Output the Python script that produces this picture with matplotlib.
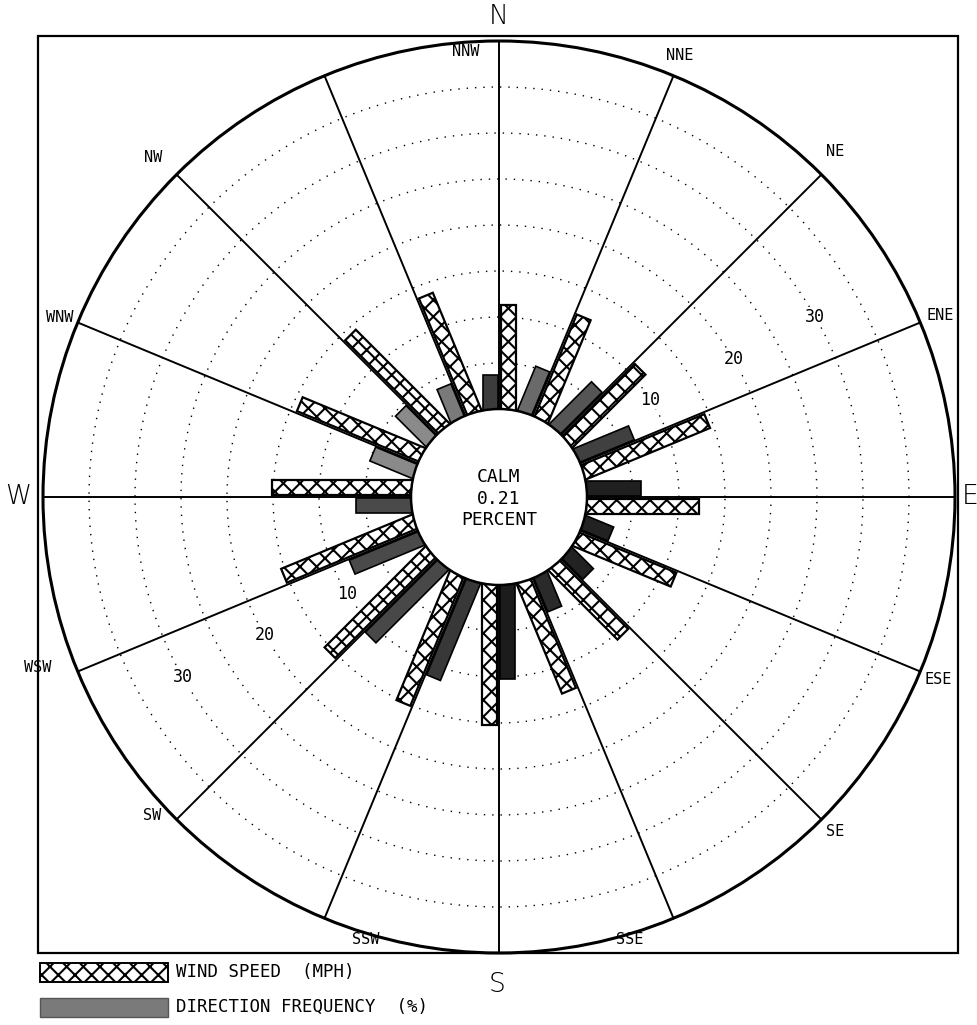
import numpy as np
import matplotlib
matplotlib.use("Agg")
import matplotlib.pyplot as plt
from matplotlib.patches import Polygon, Circle, Rectangle

# ---------------- data ----------------
directions = ["N", "NNE", "NE", "ENE", "E", "ESE", "SE", "SSE",
              "S", "SSW", "SW", "WSW", "W", "WNW", "NW", "NNW"]
wind_speed_mph = [11.3, 12.0, 11.1, 14.5, 12.2, 11.4, 10.5, 12.8,
                  15.2, 15.1, 15.4, 15.3, 15.1, 14.3, 14.3, 13.7]
direction_freq_pct = [3.7, 5.1, 6.4, 6.4, 5.9, 3.2, 3.2, 4.0,
                      10.2, 11.3, 11.1, 8.1, 6.0, 4.9, 4.6, 3.8]
ring_labels = [10, 20, 30]
calm_pct = 0.21
legend_labels = ["WIND SPEED  (MPH)", "DIRECTION FREQUENCY  (%)"]

# ---------------- layout ----------------
PX = 9.2                     # pixels per unit
W_PX, H_PX = 978, 1025
CX, CY = 499, 497            # centre in pixel coords (from top)
R0 = 88 / PX                 # calm circle radius (units)
RMAX = 40                    # outer circle value

plt.rcParams["hatch.linewidth"] = 1.5
fig = plt.figure(figsize=(W_PX / 100, H_PX / 100), dpi=100)
ax = fig.add_axes([0, 0, 1, 1])
ax.set_xlim(-CX / PX, (W_PX - CX) / PX)
ax.set_ylim(-(H_PX - CY) / PX, CY / PX)
ax.axis("off")

font = "DejaVu Sans"
mono = "DejaVu Sans Mono"


def px(x, y):
    """pixel position (from top-left) -> data units"""
    return (x - CX) / PX, (CY - y) / PX


angles = np.arange(len(directions)) * 22.5

# frame
ax.add_patch(Rectangle((-50.1, -49.6), 100.0, 99.7, fill=False,
                       lw=1.6, ec="black", zorder=1))

# dotted rings
t = np.linspace(0, 2 * np.pi, 720)
for v in range(5, RMAX, 5):
    r = R0 + v
    ax.plot(r * np.cos(t), r * np.sin(t), color="black", lw=1.0,
            ls=(0, (1, 5)), zorder=2)

# outer circle
ax.add_patch(Circle((0, 0), R0 + RMAX, fill=False, lw=2.2, ec="black", zorder=3))

# bars
freq_shades = ["#3c3c3c", "#6a6a6a", "#555555", "#404040", "#202020", "#222222",
               "#222222", "#2a2a2a", "#1c1c1c", "#383838", "#484848", "#4a4a4a",
               "#4a4a4a", "#8a8a8a", "#8a8a8a", "#7a7a7a"]


def bar(theta, length, o1, o2, **kw):
    th = np.radians(theta)
    u = np.array([np.sin(th), np.cos(th)])
    p = np.array([np.cos(th), -np.sin(th)])
    pts = [o1 * p, o2 * p, o2 * p + length * u, o1 * p + length * u]
    ax.add_patch(Polygon(pts, closed=True, **kw))


for i, th in enumerate(angles):
    bar(th, R0 + wind_speed_mph[i], 0.22, 1.85, fc="white", ec="black",
        hatch="xx", lw=1.6, zorder=4)
    bar(th, R0 + direction_freq_pct[i], -1.75, -0.12, fc=freq_shades[i],
        ec="black", lw=1.2, zorder=4)

# direction lines
for th in angles:
    a = np.radians(th)
    ax.plot([R0 * np.sin(a), (R0 + RMAX) * np.sin(a)],
            [R0 * np.cos(a), (R0 + RMAX) * np.cos(a)],
            color="black", lw=1.4, zorder=5)

# calm circle
ax.add_patch(Circle((0, 0), R0, fc="white", ec="black", lw=1.8, zorder=6))
ax.text(0, 2.2, "CALM", ha="center", va="center", family=mono, fontsize=13, zorder=7)
ax.text(0, -0.2, f"{calm_pct:.2f}", ha="center", va="center", family=mono,
        fontsize=13, zorder=7)
ax.text(0, -2.5, "PERCENT", ha="center", va="center", family=mono, fontsize=13, zorder=7)

# ring labels
up_angles = [32.7, 30.5, 29.7]
for lab, ang in zip(ring_labels, up_angles):
    r = R0 + lab
    for a in (ang, ang + 180):
        ax.text(r * np.cos(np.radians(a)), r * np.sin(np.radians(a)), str(lab),
                ha="center", va="center", family=mono, fontsize=12, zorder=7,
                bbox=dict(fc="white", ec="none", pad=0.5))

# direction labels (pixel positions)
label_px = {"N": (499, 17), "E": (970, 497), "S": (497, 985), "W": (18, 497),
            "NNE": (680, 55), "NE": (835, 152), "ENE": (940, 315),
            "ESE": (938, 680), "SE": (835, 832), "SSE": (630, 940),
            "SSW": (366, 940), "SW": (152, 815), "WSW": (38, 668),
            "WNW": (60, 318), "NW": (153, 157), "NNW": (466, 52)}
for d in directions:
    x, y = px(*label_px[d])
    if len(d) == 1:
        ax.text(x, y, d, ha="center", va="center", family=font, fontsize=19,
                fontweight="light", zorder=7)
    else:
        ax.text(x, y, d, ha="center", va="center", family=mono,
                fontsize=11, zorder=7)

# legend
lx0, _ = px(40, 0)
lx1, _ = px(168, 0)
rows_y = [px(0, 972)[1], px(0, 1007)[1]]
hh = 19 / PX
ax.add_patch(Rectangle((lx0, rows_y[0] - hh / 2), lx1 - lx0, hh, fc="white",
                       ec="black", hatch="xx", lw=1.4, zorder=4, clip_on=False))
ax.add_patch(Rectangle((lx0, rows_y[1] - hh / 2), lx1 - lx0, hh, fc="#7a7a7a",
                       ec="#555555", lw=1.0, zorder=4, clip_on=False))
for yy, lab in zip(rows_y, legend_labels):
    ax.text(px(176, 0)[0], yy, lab, ha="left", va="center", family=mono,
            fontsize=12.5, zorder=7)

fig.savefig("out.png", dpi=100, facecolor="white")
